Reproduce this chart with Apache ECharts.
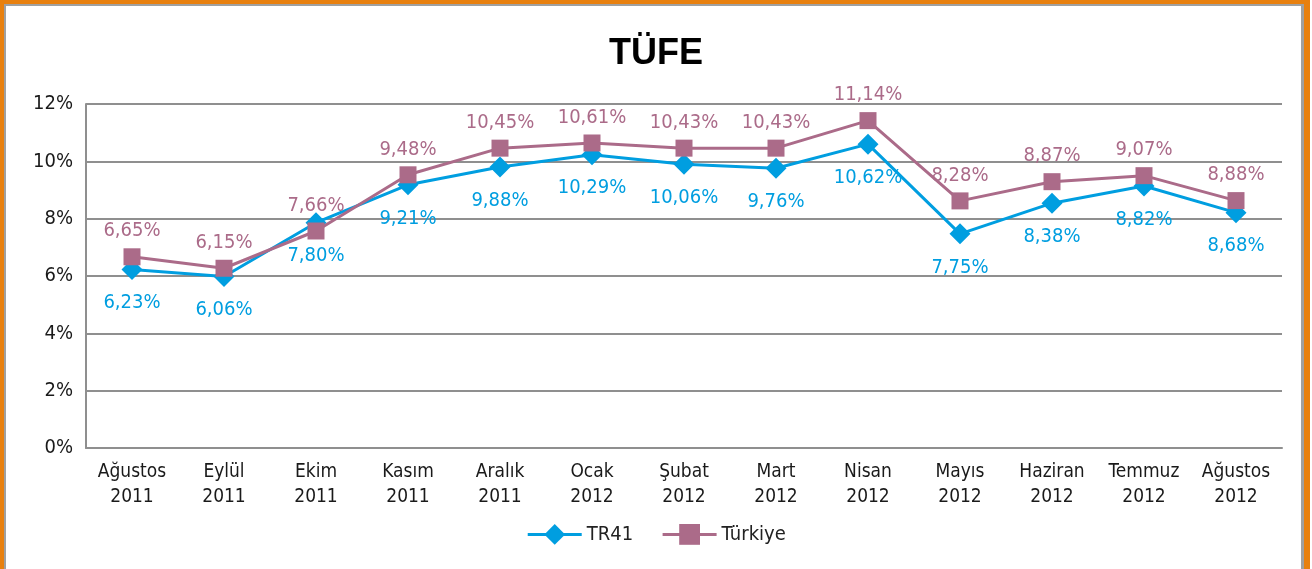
<!DOCTYPE html>
<html lang="tr">
<head>
    <meta charset="UTF-8">
    <title>TÜFE</title>
    <script type="text/javascript" src="https://cdn.jsdelivr.net/npm/echarts@6/dist/echarts.min.js"></script>
    <style>
        body { margin: 0; background: #fff; }
        #main { position: absolute; left: 0; top: 0; width: 1312px; height: 569px; }
        #frame {
            position: absolute; left: 0; top: 0; width: 1300px; height: 569px;
            border-left: 4px solid #e8800e; border-top: 4px solid #e8800e; border-right: 6px solid #e8800e;
            pointer-events: none;
        }
        #frame div {
            position: absolute; left: 0; top: 0; right: 0; bottom: -4px;
            border-left: 2px solid #a0a0a0; border-top: 2px solid #a0a0a0; border-right: 3px solid #a0a0a0;
        }
    </style>
</head>
<body>
<div id="main"></div>
<div id="frame"><div></div></div>
<script type="text/javascript">
    // aylar
    var months = ['Ağustos\n2011', 'Eylül\n2011', 'Ekim\n2011', 'Kasım\n2011', 'Aralık\n2011', 'Ocak\n2012',
        'Şubat\n2012', 'Mart\n2012', 'Nisan\n2012', 'Mayıs\n2012', 'Haziran\n2012', 'Temmuz\n2012', 'Ağustos\n2012'];

    // noktalar (grafikteki konumlar)
    var tr41 = [6.23, 5.98, 7.86, 9.18, 9.80, 10.23, 9.90, 9.76, 10.60, 7.47, 8.54, 9.14, 8.21];
    var turkiye = [6.67, 6.27, 7.57, 9.53, 10.46, 10.64, 10.46, 10.46, 11.42, 8.62, 9.29, 9.50, 8.63];

    // etiketler
    var tr41Labels = ['6,23%', '6,06%', '7,80%', '9,21%', '9,88%', '10,29%', '10,06%', '9,76%', '10,62%', '7,75%', '8,38%', '8,82%', '8,68%'];
    var turkiyeLabels = ['6,65%', '6,15%', '7,66%', '9,48%', '10,45%', '10,61%', '10,43%', '10,43%', '11,14%', '8,28%', '8,87%', '9,07%', '8,88%'];

    var yTicks = [0, 12, 2];

    var font = "'Liberation Sans Narrow', 'DejaVu Sans Condensed', 'Noto Sans', sans-serif";
    var blue = '#009ee0';
    var mauve = '#ab6b89';

    var myChart = echarts.init(document.getElementById('main'));
    var option = {
        animation: false,
        title: {
            text: 'TÜFE',
            left: 'center',
            top: 31,
            textStyle: {
                fontFamily: 'Liberation Sans',
                fontWeight: 'bold',
                fontSize: 36,
                color: '#000'
            }
        },
        legend: {
            data: ['TR41', 'Türkiye'],
            left: 'center',
            top: 519,
            itemWidth: 54,
            itemHeight: 26,
            itemGap: 28,
            lineStyle: { width: 3 },
            textStyle: { fontFamily: font, fontSize: 20, color: '#222' }
        },
        grid: {
            left: 86,
            right: 30,
            top: 104,
            bottom: 121
        },
        xAxis: {
            type: 'category',
            data: months,
            axisLine: { show: true, lineStyle: { color: '#8f8f8f', width: 2 } },
            axisTick: { show: false },
            axisLabel: {
                interval: 0,
                margin: 12,
                fontFamily: font,
                fontSize: 19,
                lineHeight: 25,
                color: '#1a1a1a'
            }
        },
        yAxis: {
            type: 'value',
            min: yTicks[0],
            max: yTicks[1],
            interval: yTicks[2],
            axisLine: { show: true, lineStyle: { color: '#8f8f8f', width: 2 } },
            axisTick: { show: false },
            splitLine: { lineStyle: { color: '#8f8f8f', width: 2 } },
            axisLabel: {
                formatter: '{value}%',
                margin: 13,
                fontFamily: font,
                fontSize: 20,
                color: '#1a1a1a'
            }
        },
        series: [{
            name: 'TR41',
            type: 'line',
            data: tr41,
            symbol: 'diamond',
            symbolSize: 21,
            itemStyle: { color: blue },
            lineStyle: { color: blue, width: 3 },
            label: {
                show: true,
                position: 'bottom',
                distance: 13,
                fontFamily: font,
                fontSize: 20,
                color: blue,
                formatter: function (p) { return tr41Labels[p.dataIndex]; }
            },
            z: 2
        }, {
            name: 'Türkiye',
            type: 'line',
            data: turkiye,
            symbol: 'rect',
            symbolSize: 17,
            itemStyle: { color: mauve },
            lineStyle: { color: mauve, width: 3 },
            label: {
                show: true,
                position: 'top',
                distance: 7,
                fontFamily: font,
                fontSize: 20,
                color: mauve,
                formatter: function (p) { return turkiyeLabels[p.dataIndex]; }
            },
            z: 3
        }]
    };
    option && myChart.setOption(option);
</script>
</body>
</html>
